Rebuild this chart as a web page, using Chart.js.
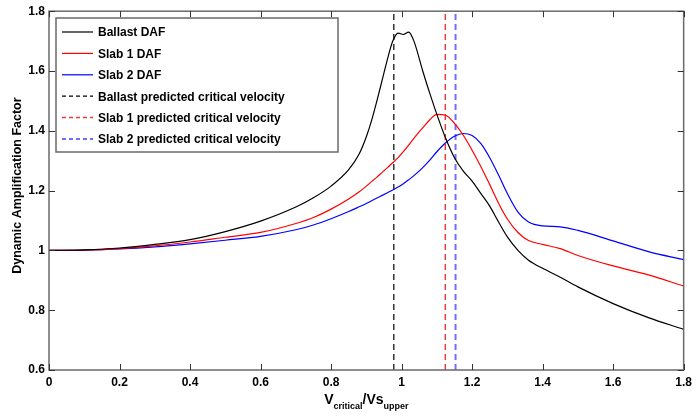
<!DOCTYPE html>
<html>
<head>
<meta charset="utf-8">
<script src="https://cdn.jsdelivr.net/npm/chart.js@4"></script>
<style>
  html, body { margin: 0; padding: 0; background: #fff; }
  #wrap { width: 697px; height: 416px; }
</style>
</head>
<body>
<div id="wrap"><canvas id="daf"></canvas></div>
<script>
// velocity ratio V_critical / Vs_upper
const xs = [0, 0.1, 0.2, 0.3, 0.4, 0.5, 0.6, 0.7, 0.75, 0.8, 0.85, 0.88, 0.9, 0.915, 0.93, 0.945, 0.96, 0.975,
    0.99, 1.005, 1.02, 1.035, 1.06, 1.08, 1.1, 1.125, 1.15, 1.175, 1.2, 1.225, 1.25, 1.275, 1.3, 1.33, 1.36,
    1.4, 1.45, 1.5, 1.6, 1.7, 1.8];

const ballastDAF = [1.0, 1.002, 1.008, 1.02, 1.036, 1.063, 1.098, 1.145, 1.176, 1.215, 1.27, 1.323, 1.38, 1.435, 1.5, 1.57, 1.64, 1.70,
    1.727, 1.722, 1.73, 1.70, 1.60, 1.525, 1.455, 1.375, 1.31, 1.265, 1.232, 1.19, 1.148, 1.095, 1.045, 1.0, 0.967,
    0.94, 0.91, 0.878, 0.822, 0.775, 0.736];

const slab1DAF = [1.0, 1.001, 1.006, 1.015, 1.028, 1.044, 1.06, 1.09, 1.11, 1.138, 1.172, 1.196, 1.215, 1.23, 1.245, 1.261, 1.277, 1.293,
    1.31, 1.33, 1.352, 1.375, 1.41, 1.437, 1.455, 1.452, 1.425, 1.385, 1.335, 1.28, 1.22, 1.158, 1.105, 1.06, 1.033,
    1.02, 1.006, 0.983, 0.948, 0.918, 0.881];

const slab2DAF = [1.0, 1.001, 1.005, 1.012, 1.022, 1.034, 1.047, 1.069, 1.085, 1.106, 1.13, 1.146, 1.157, 1.166, 1.175, 1.184, 1.193, 1.202,
    1.212, 1.223, 1.236, 1.25, 1.277, 1.302, 1.33, 1.36, 1.382, 1.391, 1.384, 1.357, 1.31, 1.252, 1.19, 1.128, 1.095,
    1.082, 1.079, 1.067, 1.032, 0.996, 0.969];

// predicted critical velocities (vertical lines)
const critBallast = 0.978;
const critSlab1 = 1.124;
const critSlab2 = 1.153;

const seriesLabels = [
    'Ballast DAF',
    'Slab 1 DAF',
    'Slab 2 DAF',
    'Ballast predicted critical velocity',
    'Slab 1 predicted critical velocity',
    'Slab 2 predicted critical velocity',
];

const xTicks = [0, 0.2, 0.4, 0.6, 0.8, 1, 1.2, 1.4, 1.6, 1.8];
const yTicks = [0.6, 0.8, 1, 1.2, 1.4, 1.6, 1.8];

const FONT = 'Liberation Sans, Arial, sans-serif';
const AXIS_COLOR = '#6a6a6a';

function curve(ys) {
    return xs.map((x, i) => ({ x: x, y: ys[i] }));
}
function vline(v) {
    return [{ x: v, y: yTicks[0] }, { x: v, y: yTicks[yTicks.length - 1] }];
}

const solid = { pointRadius: 0, borderWidth: 1.2, cubicInterpolationMode: 'monotone', fill: false };

const data = {
    datasets: [
        { ...solid, label: seriesLabels[0], data: curve(ballastDAF), borderColor: 'rgb(0, 0, 0)' },
        { ...solid, label: seriesLabels[1], data: curve(slab1DAF), borderColor: 'rgb(255, 0, 0)' },
        { ...solid, label: seriesLabels[2], data: curve(slab2DAF), borderColor: 'rgb(0, 0, 255)' },
        { label: seriesLabels[3], data: vline(critBallast), borderColor: 'rgb(0, 0, 0)', borderWidth: 1.2,
          borderDash: [6, 4], pointRadius: 0 },
        { label: seriesLabels[4], data: vline(critSlab1), borderColor: 'rgb(235, 60, 60)', borderWidth: 1.5,
          borderDash: [6, 4], pointRadius: 0 },
        { label: seriesLabels[5], data: vline(critSlab2), borderColor: 'rgb(110, 110, 255)', borderWidth: 2,
          borderDash: [6, 4], pointRadius: 0 },
    ]
};

// matlab-like box, inward ticks, legend inside the axes and axis titles
const matlabBox = {
    id: 'matlabBox',
    afterDraw(chart) {
        const { ctx, chartArea: a, scales } = chart;
        const sx = scales.x, sy = scales.y;
        ctx.save();

        ctx.strokeStyle = AXIS_COLOR;
        ctx.lineWidth = 1.5;
        ctx.strokeRect(a.left, a.top, a.right - a.left, a.bottom - a.top);

        ctx.lineWidth = 1;
        ctx.strokeStyle = '#333';
        ctx.beginPath();
        xTicks.forEach(v => {
            const px = Math.round(sx.getPixelForValue(v)) + 0.5;
            ctx.moveTo(px, a.bottom); ctx.lineTo(px, a.bottom - 6);
            ctx.moveTo(px, a.top); ctx.lineTo(px, a.top + 6);
        });
        yTicks.forEach(v => {
            const py = Math.round(sy.getPixelForValue(v)) + 0.5;
            ctx.moveTo(a.left, py); ctx.lineTo(a.left + 6, py);
            ctx.moveTo(a.right, py); ctx.lineTo(a.right - 6, py);
        });
        ctx.stroke();

        // legend
        const lx = 56, ly = 18, lw = 282, lh = 134;
        ctx.fillStyle = '#fff';
        ctx.fillRect(lx, ly, lw, lh);
        ctx.strokeStyle = AXIS_COLOR;
        ctx.lineWidth = 1.5;
        ctx.strokeRect(lx, ly, lw, lh);
        ctx.font = 'bold 12px ' + FONT;
        ctx.textBaseline = 'middle';
        ctx.textAlign = 'left';
        chart.data.datasets.forEach((ds, i) => {
            const cy = 32 + i * 21.4;
            ctx.strokeStyle = ds.borderColor;
            ctx.lineWidth = ds.borderWidth;
            ctx.setLineDash(ds.borderDash ? [4, 3] : []);
            ctx.beginPath();
            ctx.moveTo(62, cy); ctx.lineTo(93, cy);
            ctx.stroke();
            ctx.setLineDash([]);
            ctx.fillStyle = '#000';
            ctx.fillText(ds.label, 98, cy + 1);
        });

        // y title
        ctx.save();
        ctx.translate(18, (a.top + a.bottom) / 2 - 5);
        ctx.rotate(-Math.PI / 2);
        ctx.textAlign = 'center';
        ctx.textBaseline = 'middle';
        ctx.font = 'bold 12.5px ' + FONT;
        ctx.fillStyle = '#000';
        ctx.fillText('Dynamic Amplification Factor', 0, 0);
        ctx.restore();

        // x title with subscripts
        const parts = [
            ['V', 'bold 14px ' + FONT, 0],
            ['critical', 'bold 9px ' + FONT, 5],
            ['/Vs', 'bold 14px ' + FONT, 0],
            ['upper', 'bold 9px ' + FONT, 5],
        ];
        let total = 0;
        parts.forEach(p => { ctx.font = p[1]; total += ctx.measureText(p[0]).width; });
        let cx = (a.left + a.right) / 2 - total / 2;
        ctx.textBaseline = 'alphabetic';
        ctx.textAlign = 'left';
        ctx.fillStyle = '#000';
        parts.forEach(p => {
            ctx.font = p[1];
            ctx.fillText(p[0], cx, 404 + p[2]);
            cx += ctx.measureText(p[0]).width;
        });

        ctx.restore();
    }
};

const config = {
    type: 'line',
    data: data,
    options: {
        responsive: true,
        maintainAspectRatio: false,
        animation: false,
        layout: { padding: { top: 10, right: 10, left: 0, bottom: 0 } },
        plugins: {
            legend: { display: false },
            tooltip: { enabled: false },
        },
        scales: {
            x: {
                type: 'linear',
                min: xTicks[0],
                max: xTicks[xTicks.length - 1],
                afterBuildTicks: s => { s.ticks = xTicks.map(v => ({ value: v })); },
                afterFit: s => { s.height = 46; },
                grid: { display: false, drawTicks: false },
                border: { display: false },
                ticks: {
                    padding: 5,
                    color: '#000',
                    font: { family: FONT, size: 12, weight: 'bold' },
                    maxRotation: 0,
                    callback: v => String(v),
                },
            },
            y: {
                type: 'linear',
                min: yTicks[0],
                max: yTicks[yTicks.length - 1],
                afterBuildTicks: s => { s.ticks = yTicks.map(v => ({ value: v })); },
                afterFit: s => { s.width = 49; },
                grid: { display: false, drawTicks: false },
                border: { display: false },
                ticks: {
                    padding: 4,
                    color: '#000',
                    font: { family: FONT, size: 12, weight: 'bold' },
                    callback: v => String(v),
                },
            },
        },
    },
    plugins: [matlabBox],
};

const dafChart = new Chart(document.getElementById('daf'), config);
</script>
</body>
</html>
